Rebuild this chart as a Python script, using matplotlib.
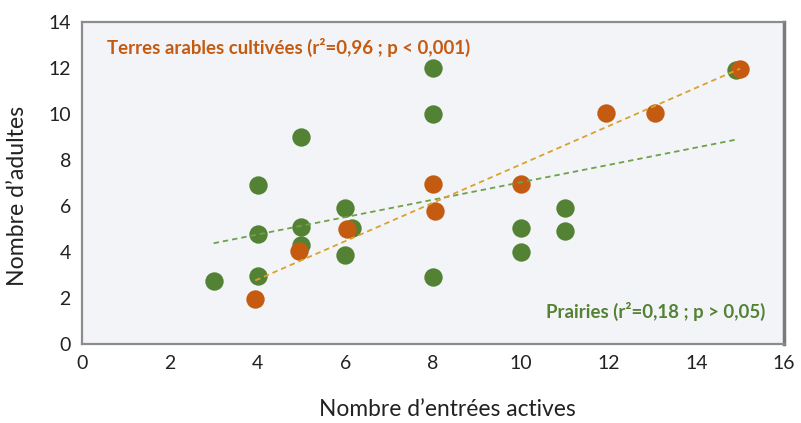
import matplotlib.pyplot as plt
import numpy as np

plt.rcParams['font.family'] = ['Lato', 'DejaVu Sans']

# Prairies (green)
prairie_x = [3, 4, 4, 4, 5, 5, 5, 6, 6, 6.15, 8, 8, 8, 10, 10, 11, 11, 14.9]
prairie_y = [2.75, 6.9, 4.8, 2.95, 9, 5.1, 4.3, 5.9, 3.85, 5.05, 12, 10, 2.9, 5.05, 4, 5.9, 4.9, 11.9]

# Terres arables cultivées (orange)
terre_x = [3.95, 4.95, 6.05, 8, 8.05, 10, 11.95, 13.05, 15]
terre_y = [1.95, 4.05, 5, 6.95, 5.8, 6.95, 10.05, 10.05, 11.95]

green = '#548235'
orange = '#C55A11'

fig = plt.figure(figsize=(8.01, 4.23), dpi=100)
ax = fig.add_axes([82/801, 1-344/423, 702/801, 322/423])
ax.set_facecolor('#F2F4F7')

ax.scatter(prairie_x, prairie_y, s=175, color=green, zorder=3, linewidths=0)
ax.scatter(terre_x, terre_y, s=175, color=orange, zorder=4, linewidths=0)

# trendlines (linear fits)
for xs, ys, c in [(prairie_x, prairie_y, '#6FA04A'), (terre_x, terre_y, '#D9A22E')]:
    a, b = np.polyfit(xs, ys, 1)
    xx = np.array([min(xs), max(xs)])
    ax.plot(xx, a*xx + b, color=c, lw=1.3, dashes=(3, 2.2), zorder=5)

ax.set_xlim(0, 16)
ax.set_ylim(0, 14)
ax.set_xticks(range(0, 17, 2))
ax.set_yticks(range(0, 15, 2))
ax.tick_params(length=0, labelsize=14, colors='#222222', pad=8)
for s in ax.spines.values():
    s.set_color('#8C8C8C')
    s.set_linewidth(1.6)
ax.spines['right'].set_linewidth(2.5)
ax.spines['right'].set_color('#7A7A7A')

ax.set_xlabel('Nombre d’entrées actives', fontsize=16.4, color='#222222')
ax.set_ylabel('Nombre d’adultes', fontsize=16.6, color='#222222')
ax.xaxis.set_label_coords(0.52, -0.17)
ax.yaxis.set_label_coords(-0.077, 0.46)

ax.text(0.57, 12.9, 'Terres arables cultivées (r²=0,96 ; p < 0,001)', color=orange,
        fontsize=13.4, fontweight='bold', va='center', ha='left')
ax.text(15.58, 1.43, 'Prairies (r²=0,18 ; p > 0,05)', color=green,
        fontsize=13.4, fontweight='bold', va='center', ha='right')

fig.savefig('out.png', dpi=100)
